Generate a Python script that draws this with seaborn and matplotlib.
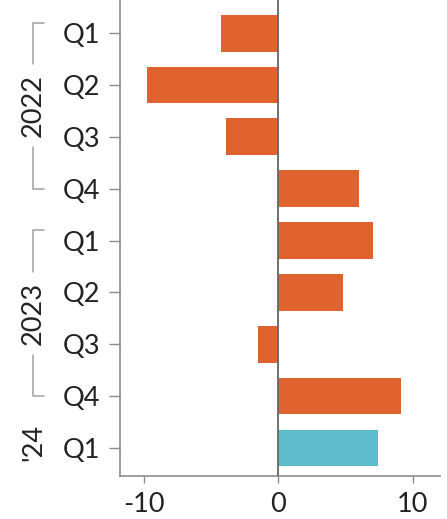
import matplotlib
matplotlib.use("Agg")
import matplotlib.pyplot as plt
import matplotlib.transforms as mtransforms
import seaborn as sns
import pandas as pd

years = ['2022', '2022', '2022', '2022', '2023', '2023', '2023', '2023', "'24"]
quarters = ['Q1', 'Q2', 'Q3', 'Q4', 'Q1', 'Q2', 'Q3', 'Q4', 'Q1']
values = [-4.3, -9.8, -3.9, 6.0, 7.0, 4.8, -1.5, 9.1, 7.4]
year_groups = ['2022', '2023', "'24"]

ORANGE = '#E0622F'
BLUE = '#5DBBCB'
GRAY = '#8c8c8c'
TEXT = '#222222'
FS = 19.5

df = pd.DataFrame({
    'period': [y + ' ' + q for y, q in zip(years, quarters)],
    'value': values,
    'year': years,
})
colors = [BLUE if y == "'24" else ORANGE for y in years]

sns.set_theme(style='white')
plt.rcParams['font.family'] = ['Lato', 'DejaVu Sans']

fig = plt.figure(figsize=(4.47, 5.19), dpi=100)
ax = fig.add_axes([0.268, 0.082, 0.716, 0.918])

sns.barplot(data=df, x='value', y='period', hue='period', palette=colors,
            legend=False, width=0.71, saturation=1, orient='h',
            linewidth=0, ax=ax)

ax.axvline(0, color='#666666', lw=1.3, zorder=3)

ax.set_xlim(-11.8, 12)
ax.set_ylim(len(values) - 0.45, -0.64)
ax.set_xlabel('')
ax.set_ylabel('')

for side in ['top', 'right']:
    ax.spines[side].set_visible(False)
for side in ['left', 'bottom']:
    ax.spines[side].set_color(GRAY)
    ax.spines[side].set_linewidth(1.2)

ax.set_xticks([-10, 0, 10])
ax.set_xticklabels(['-10', '0', '10'])
ax.set_yticks(range(len(quarters)))
ax.set_yticklabels(quarters)
ax.tick_params(axis='x', length=5, width=1, color=GRAY, labelsize=FS,
               labelcolor=TEXT, pad=6, bottom=True)
ax.tick_params(axis='y', length=8, width=1, color=GRAY, labelsize=FS,
               labelcolor=TEXT, pad=6, left=True)

# year labels with brackets on the left
trans = mtransforms.blended_transform_factory(ax.transAxes, ax.transData)
bx = -0.272
for g in year_groups:
    idx = [i for i, y in enumerate(years) if y == g]
    i0, i1 = idx[0], idx[-1]
    mid = (i0 + i1) / 2 - 0.1
    ax.text(-0.27, mid, g, transform=trans, rotation=90, ha='center',
            va='center', fontsize=FS, color=TEXT)
    if len(idx) > 1:
        ax.plot([bx + 0.035, bx, bx], [i0 - 0.2, i0 - 0.2, i0 + 0.6],
                transform=trans, clip_on=False, color='#a0a0a0', lw=1.1)
        ax.plot([bx, bx, bx + 0.035], [i1 - 0.8, i1, i1],
                transform=trans, clip_on=False, color='#a0a0a0', lw=1.1)

fig.savefig('out.png', dpi=100, facecolor='white')
